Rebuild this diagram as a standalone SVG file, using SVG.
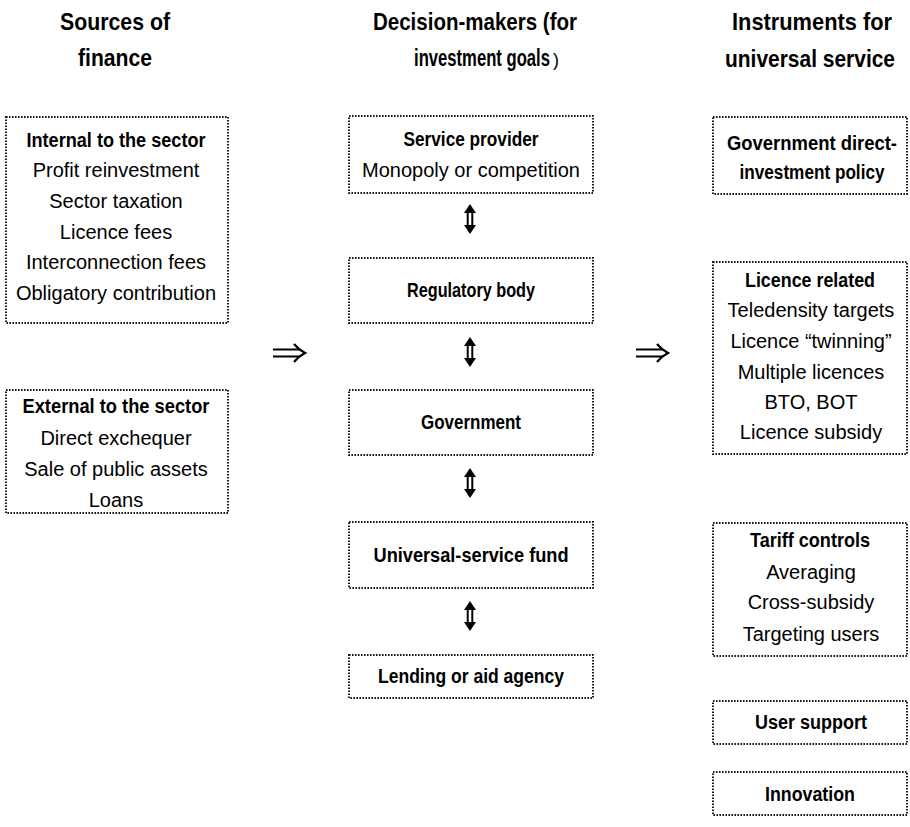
<svg xmlns="http://www.w3.org/2000/svg" xmlns:xlink="http://www.w3.org/1999/xlink" width="910" height="827" viewBox="0 0 910 827">
<style>
.box{fill:none;stroke:#1a1a1a;stroke-width:2;stroke-dasharray:1.6 1.4}
text{font-family:"Liberation Sans",Arial,sans-serif;fill:#000;text-anchor:middle}
.h{font-size:24px;font-weight:bold}
.b{font-size:20px;font-weight:bold}
.r{font-size:20px}
</style>
<defs>
<g id="vdbl">
<path d="M0,-15 L-6,-6 L6,-6 Z M0,15 L-6,6 L6,6 Z" fill="#000"/>
<path d="M-2.3,-7 V7 M2.3,-7 V7" stroke="#000" stroke-width="2" fill="none"/>
</g>
<g id="rdbl">
<path d="M0,-3.5 H27 M0,3.5 H27" stroke="#000" stroke-width="2" fill="none"/>
<path d="M21,-9 Q26,-3 32,0 Q26,3 21,9" stroke="#000" stroke-width="2.2" fill="none"/>
</g>
</defs>

<g id="headings">
<text class="h" x="115" y="30" textLength="110" lengthAdjust="spacingAndGlyphs">Sources of</text>
<text class="h" x="115" y="66" textLength="74" lengthAdjust="spacingAndGlyphs">finance</text>
<text class="h" x="475" y="30" textLength="204" lengthAdjust="spacingAndGlyphs">Decision-makers (for</text>
<text class="h" x="414" y="66" style="text-anchor:start;font-size:23px" textLength="136" lengthAdjust="spacingAndGlyphs">investment goals</text>
<text x="553" y="66" style="text-anchor:start;font-size:18px">)</text>
<text class="h" x="812" y="30" textLength="160" lengthAdjust="spacingAndGlyphs">Instruments for</text>
<text class="h" x="810" y="67" textLength="170" lengthAdjust="spacingAndGlyphs">universal service</text>
</g>

<g id="internal">
<rect class="box" x="6" y="117" width="222" height="206"/>
<text class="b" x="116" y="147" textLength="179" lengthAdjust="spacingAndGlyphs">Internal to the sector</text>
<text class="r" x="116" y="177">Profit reinvestment</text>
<text class="r" x="116" y="208">Sector taxation</text>
<text class="r" x="116" y="239">Licence fees</text>
<text class="r" x="116" y="269">Interconnection fees</text>
<text class="r" x="116" y="300">Obligatory contribution</text>
</g>

<g id="external">
<rect class="box" x="6" y="390" width="222" height="123"/>
<text class="b" x="116" y="413" textLength="187" lengthAdjust="spacingAndGlyphs">External to the sector</text>
<text class="r" x="116" y="445">Direct exchequer</text>
<text class="r" x="116" y="476">Sale of public assets</text>
<text class="r" x="116" y="507">Loans</text>
</g>

<g id="service-provider">
<rect class="box" x="349" y="116" width="244" height="77"/>
<text class="b" x="471" y="146" textLength="135" lengthAdjust="spacingAndGlyphs">Service provider</text>
<text class="r" x="471" y="177">Monopoly or competition</text>
</g>

<g id="regulatory-body">
<rect class="box" x="349" y="258" width="244" height="65"/>
<text class="b" x="471" y="297" textLength="128" lengthAdjust="spacingAndGlyphs">Regulatory body</text>
</g>

<g id="government">
<rect class="box" x="349" y="390" width="244" height="65"/>
<text class="b" x="471" y="429" textLength="100" lengthAdjust="spacingAndGlyphs">Government</text>
</g>

<g id="us-fund">
<rect class="box" x="349" y="522" width="244" height="66"/>
<text class="b" x="471" y="562" textLength="195" lengthAdjust="spacingAndGlyphs">Universal-service fund</text>
</g>

<g id="lending">
<rect class="box" x="349" y="655" width="244" height="43"/>
<text class="b" x="471" y="683" textLength="186" lengthAdjust="spacingAndGlyphs">Lending or aid agency</text>
</g>

<g id="gov-direct">
<rect class="box" x="713" y="117" width="194" height="77"/>
<text class="b" x="812" y="150" textLength="170" lengthAdjust="spacingAndGlyphs">Government direct-</text>
<text class="b" x="812" y="179" textLength="145" lengthAdjust="spacingAndGlyphs">investment policy</text>
</g>

<g id="licence-related">
<rect class="box" x="713" y="262" width="194" height="192"/>
<text class="b" x="810" y="287" textLength="130" lengthAdjust="spacingAndGlyphs">Licence related</text>
<text class="r" x="811" y="317">Teledensity targets</text>
<text class="r" x="811" y="348">Licence “twinning”</text>
<text class="r" x="811" y="379">Multiple licences</text>
<text class="r" x="811" y="409">BTO, BOT</text>
<text class="r" x="811" y="439">Licence subsidy</text>
</g>

<g id="tariff-controls">
<rect class="box" x="713" y="523" width="194" height="133"/>
<text class="b" x="810" y="547" textLength="120" lengthAdjust="spacingAndGlyphs">Tariff controls</text>
<text class="r" x="811" y="579">Averaging</text>
<text class="r" x="811" y="609">Cross-subsidy</text>
<text class="r" x="811" y="641">Targeting users</text>
</g>

<g id="user-support">
<rect class="box" x="713" y="701" width="194" height="43"/>
<text class="b" x="811" y="729" textLength="112" lengthAdjust="spacingAndGlyphs">User support</text>
</g>

<g id="innovation">
<rect class="box" x="713" y="772" width="194" height="43"/>
<text class="b" x="810" y="801" textLength="90" lengthAdjust="spacingAndGlyphs">Innovation</text>
</g>

<g id="connectors">
<use xlink:href="#vdbl" x="470" y="219"/>
<use xlink:href="#vdbl" x="470" y="352"/>
<use xlink:href="#vdbl" x="470" y="483"/>
<use xlink:href="#vdbl" x="470" y="616"/>
<use xlink:href="#rdbl" x="273" y="353"/>
<use xlink:href="#rdbl" x="636" y="353"/>
</g>
</svg>
